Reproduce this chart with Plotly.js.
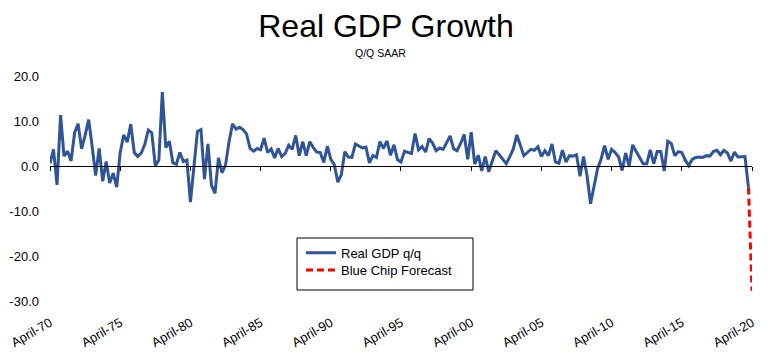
<!DOCTYPE html>
<html>
<head>
<meta charset="utf-8">
<script src="https://cdn.plot.ly/plotly-3.0.1.min.js"></script>
<style>html,body{margin:0;padding:0;background:#fff;}#chart{width:772px;height:355px;}</style>
</head>
<body>
<div id="chart"></div>
<script>
// Quarterly real GDP growth, q/q SAAR (%), first quarter = April 1970
const firstQuarter = [1970, 4];
const gdpGrowth = [
  0.6, 3.7, -4.2,
  11.3, 2.2, 3.3, 1.1,
  7.4, 9.4, 3.8, 6.8,
  10.3, 4.4, -2.1, 3.9,
  -3.4, 1.0, -3.8, -1.6,
  -4.7, 3.0, 6.9, 5.3,
  9.3, 3.0, 2.1, 2.9,
  4.8, 8.0, 7.4, 0.0,
  1.3, 16.4, 4.1, 5.5,
  0.7, 0.4, 3.0, 1.0,
  1.3, -8.0, -0.5, 7.7,
  8.1, -2.9, 4.9, -4.3,
  -6.1, 1.8, -1.5, 0.2,
  5.4, 9.4, 8.2, 8.6,
  8.1, 7.1, 3.9, 3.3,
  3.9, 3.6, 6.2, 3.0,
  3.8, 1.8, 3.9, 2.1,
  2.8, 4.6, 3.7, 6.8,
  2.3, 5.4, 2.3, 5.4,
  4.1, 3.1, 3.0, 0.8,
  4.4, 1.5, 0.3, -3.6,
  -1.9, 3.2, 2.0, 1.9,
  4.9, 4.4, 4.0, 4.2,
  0.7, 2.3, 1.9, 5.4,
  3.9, 5.6, 2.4, 4.7,
  1.4, 0.9, 3.3, 3.0,
  2.8, 7.2, 3.6, 4.3,
  3.1, 6.1, 5.1, 3.4,
  4.0, 3.7, 5.3, 6.7,
  3.8, 3.4, 5.0, 7.0,
  1.5, 7.5, 0.4, 2.4,
  -1.1, 2.1, -1.3, 1.1,
  3.4, 2.5, 1.6, 0.5,
  2.1, 3.8, 6.9, 4.8,
  2.3, 3.0, 3.7, 3.5,
  4.3, 2.1, 3.4, 2.3,
  4.9, 0.9, 0.6, 3.5,
  0.9, 2.3, 2.2, 2.5,
  -2.3, 2.1, -2.1, -8.4,
  -4.4, -0.6, 1.5, 4.5,
  1.5, 3.7, 3.0, 2.0,
  -1.0, 2.9, -0.1, 4.7,
  3.2, 1.7, 0.5, 0.5,
  3.6, 0.5, 3.2, 3.2,
  -1.1, 5.5, 5.0, 2.3,
  3.2, 3.0, 1.3, 0.1,
  1.5, 1.9, 2.0, 1.9,
  2.3, 2.2, 3.2, 3.5,
  2.5, 3.5, 2.9, 1.1,
  3.1, 2.0, 2.1, 2.1,
  -4.8
];
const forecastDates = ['2020-01-01', '2020-04-01'];
const forecastValues = [-4.8, -27.7];
const yTickVals = [-30, -20, -10, 0, 10, 20];
const yTickText = ['-30.0', '-20.0', '-10.0', '0.0', '10.0', '20.0'];
const seriesNames = ['Real GDP q/q', 'Blue Chip Forecast'];
const xRange = ['1970-04-01', '2020-04-01'];

function quarterDates(start, n) {
  const out = [];
  let y = start[0], m = start[1];
  for (let i = 0; i < n; i++) {
    out.push(y + '-' + String(m).padStart(2, '0') + '-01');
    m += 3; if (m > 12) { m -= 12; y += 1; }
  }
  return out;
}
const gdpDates = quarterDates(firstQuarter, gdpGrowth.length);

const FONT = 'Liberation Sans, Arial, sans-serif';
const W = 772, H = 355, L = 50, R = 20, T = 76, B = 54;
const pw = W - L - R, ph = H - T - B;
const px = v => (v - L) / pw;
const py = v => (H - B - v) / ph;

const traces = [
  {x: gdpDates, y: gdpGrowth, type: 'scatter', mode: 'lines', name: seriesNames[0],
   line: {color: '#2F5597', width: 3}, legend: 'legend', hoverinfo: 'skip'},
  {x: forecastDates, y: forecastValues, type: 'scatter', mode: 'lines', name: seriesNames[1],
   line: {color: '#FF0000', width: 3, dash: '7px,4px'}, legend: 'legend2', hoverinfo: 'skip'},
  {x: [xRange[0]], y: [null], xaxis: 'x2', yaxis: 'y', type: 'scatter', mode: 'lines',
   showlegend: false, hoverinfo: 'skip'}
];

const layout = {
  width: W, height: H,
  margin: {l: L, r: R, t: T, b: B, pad: 0},
  paper_bgcolor: '#fff', plot_bgcolor: '#fff',
  font: {family: FONT, color: '#000', size: 13},
  title: {text: 'Real GDP Growth', x: 0.5, xref: 'container', xanchor: 'center',
          y: 1 - 26 / H, yref: 'container', yanchor: 'middle',
          font: {family: FONT, size: 32, color: '#000'}},
  xaxis: {type: 'date', range: xRange, tick0: '1970-04-01', dtick: 'M60',
          tickformat: '%B-%y', tickangle: -30, ticks: '', showline: false,
          showgrid: false, zeroline: false, tickfont: {size: 13, color: '#000'},
          ticklabelstandoff: 11, fixedrange: true},
  xaxis2: {type: 'date', range: xRange, overlaying: 'x', anchor: 'free', position: 0.6,
           tick0: '1970-04-01', dtick: 'M60', ticks: 'outside', ticklen: 4, tickwidth: 1,
           tickcolor: '#000', showticklabels: false, showline: true, linecolor: '#000',
           linewidth: 1, showgrid: false, zeroline: false},
  yaxis: {range: [-30, 20], tickvals: yTickVals, ticktext: yTickText, ticks: '',
          showline: false, showgrid: false, zeroline: false,
          tickfont: {size: 13, color: '#000'}, ticklabelstandoff: 10},
  legend: {x: px(301), y: py(252.7), xanchor: 'left', yanchor: 'middle',
           bgcolor: 'rgba(0,0,0,0)', borderwidth: 0, font: {size: 13, color: '#000'}},
  legend2: {x: px(301), y: py(270), xanchor: 'left', yanchor: 'middle',
           bgcolor: 'rgba(0,0,0,0)', borderwidth: 0, font: {size: 13, color: '#000'}},
  shapes: [{type: 'rect', xref: 'paper', yref: 'paper', x0: px(297), x1: px(473),
            y0: py(290), y1: py(238), line: {color: '#000', width: 1}, fillcolor: 'rgba(0,0,0,0)'}],
  annotations: [{text: 'Q/Q SAAR', xref: 'paper', yref: 'paper', x: px(380.5), y: py(52.5),
                 xanchor: 'center', yanchor: 'middle', showarrow: false,
                 font: {family: FONT, size: 10.5, color: '#000'}}]
};

Plotly.newPlot('chart', traces, layout, {staticPlot: true, displayModeBar: false});
</script>
</body>
</html>
